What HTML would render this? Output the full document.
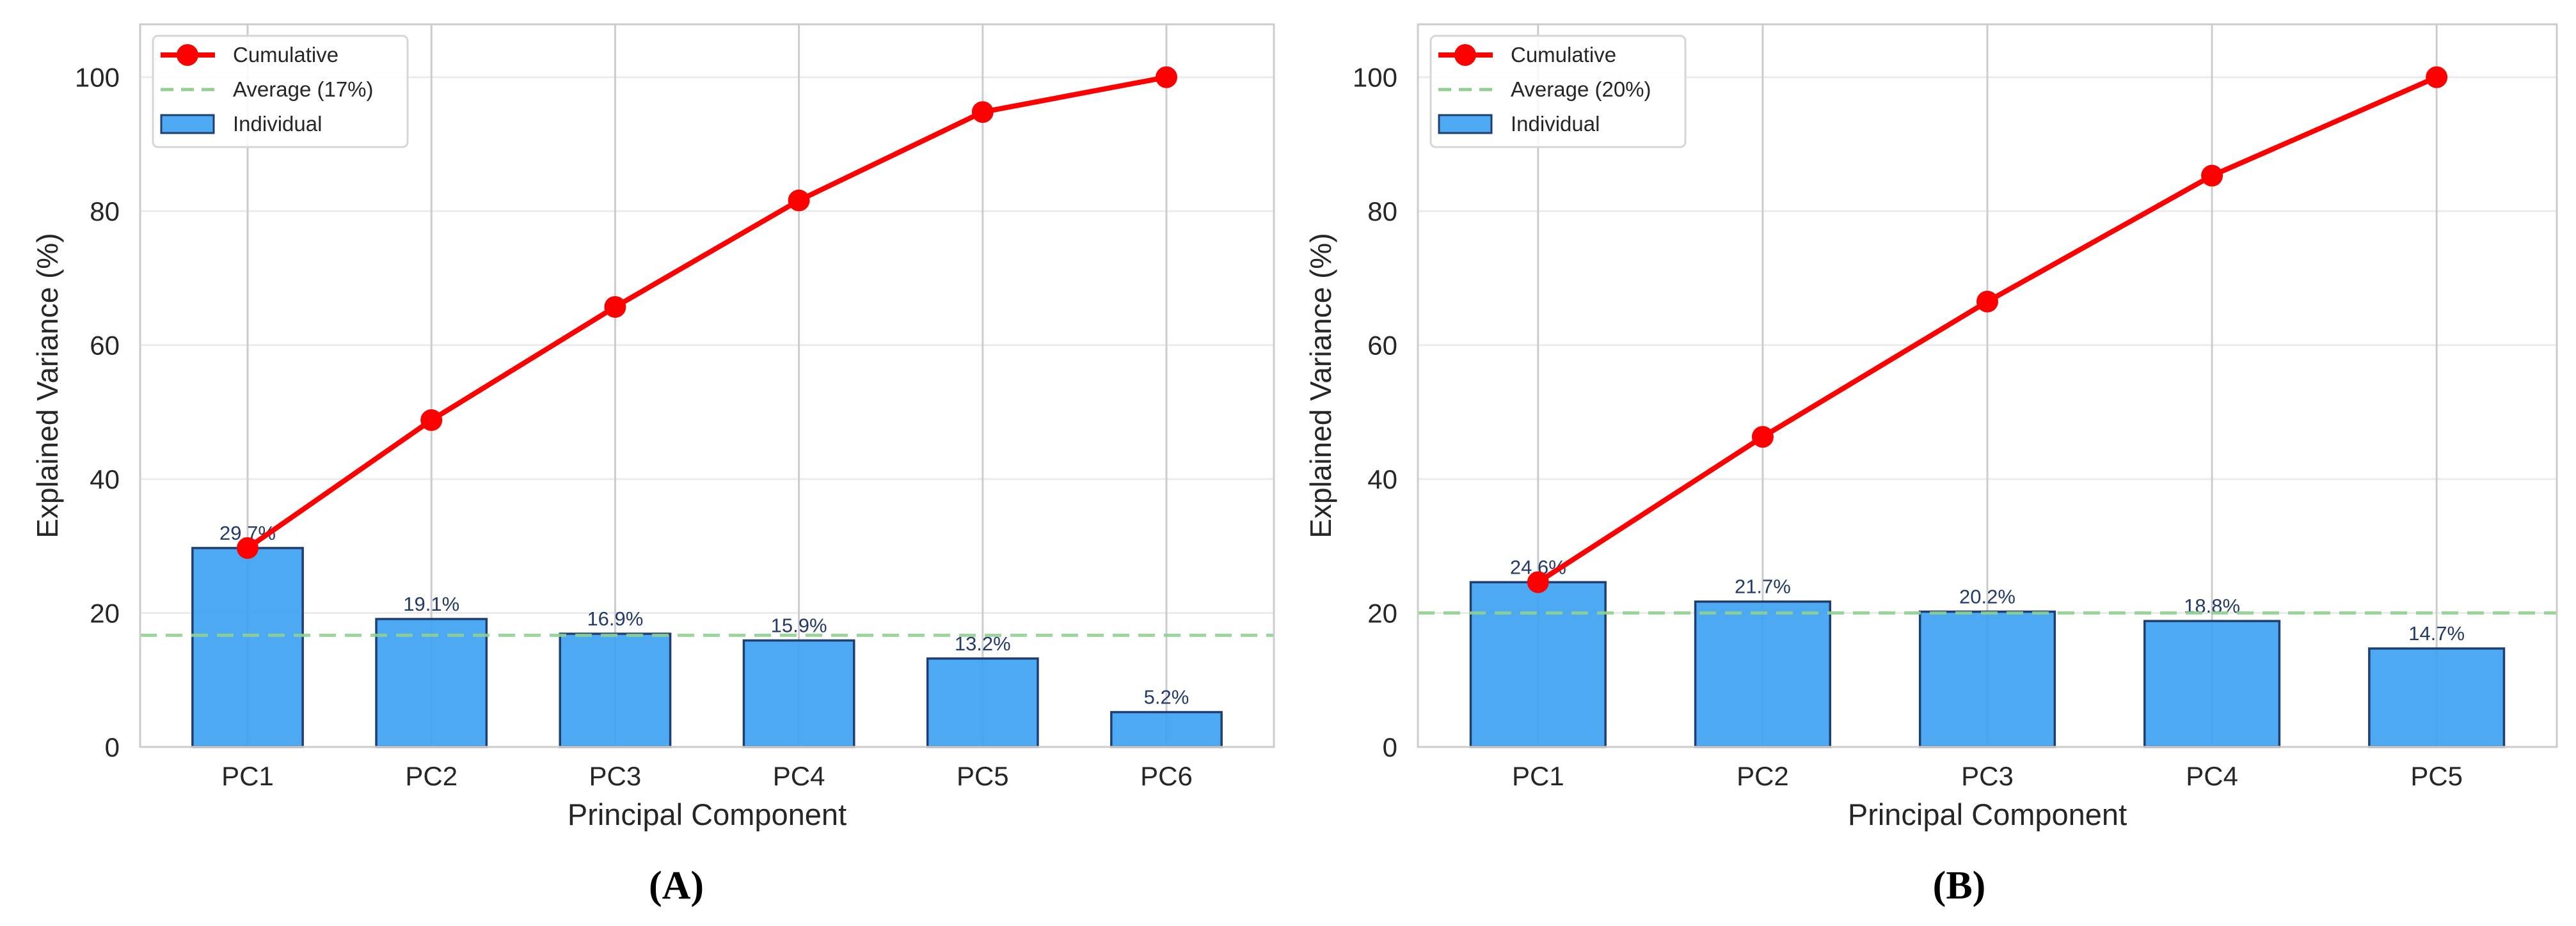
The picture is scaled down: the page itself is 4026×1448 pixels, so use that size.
<!DOCTYPE html>
<html><head><meta charset="utf-8">
<style>
html,body{margin:0;padding:0;background:#fff;}
svg{display:block;}
text{font-family:"Liberation Sans",Arial,sans-serif;}
</style></head>
<body>
<svg id="fig" width="4026" height="1448" viewBox="0 0 4026 1448" xmlns="http://www.w3.org/2000/svg"></svg>
<script>
const categoriesA = ["PC1","PC2","PC3","PC4","PC5","PC6"];
const individualA = [29.7,19.1,16.9,15.9,13.2,5.2];
const cumulativeA = [29.7,48.8,65.7,81.6,94.8,100];
const averageA = 16.67;
const avgLabelA = "Average (17%)";
const categoriesB = ["PC1","PC2","PC3","PC4","PC5"];
const individualB = [24.6,21.7,20.2,18.8,14.7];
const cumulativeB = [24.6,46.3,66.5,85.3,100];
const averageB = 20;
const avgLabelB = "Average (20%)";
const yTicks = [0,20,40,60,80,100];
const panelLabels = ["(A)","(B)"];

const NS="http://www.w3.org/2000/svg";
const fig=document.getElementById('fig');
function mk(tag,attrs,parent,txt){const e=document.createElementNS(NS,tag);for(const k in attrs)e.setAttribute(k,attrs[k]);if(txt!==undefined)e.textContent=txt;(parent||fig).appendChild(e);return e;}

function panel(cfg,cats,ind,cum,avg,avgLabel,plabel){
  const g=mk('g',{});
  
  
  const L=cfg.left,R=cfg.right,T=38,B=1168,ymax=107.9;
  const pad=cfg.pad, n=cats.length;
  const xs=i=>L+(i+pad)/(n-1+2*pad)*(R-L);
  const ys=v=>B-v/ymax*(B-T);
  const bw=0.6*(xs(1)-xs(0));
  yTicks.forEach(t=>{
    const l=mk('line',{x1:L,x2:R,y1:ys(t),y2:ys(t),stroke:'#ebebeb','stroke-width':3},g);
    
    
    const tx=mk('text',{x:L-32,y:ys(t)+15,'text-anchor':'end','font-size':42,fill:'#262626'},g,String(t));
    
    
  });
  cats.forEach((c,i)=>{
    const l=mk('line',{x1:xs(i),x2:xs(i),y1:T,y2:B,stroke:'#cccccc','stroke-width':3},g);
    
    
  });
  cats.forEach((c,i)=>{
    const r=mk('rect',{x:xs(i)-bw/2,y:ys(ind[i]),width:bw,height:ys(0)-ys(ind[i]),fill:'#3fa2f2','fill-opacity':0.92,stroke:'#1f3f73','stroke-width':3.5},g);
    
    
    const tx=mk('text',{x:xs(i),y:1228,'text-anchor':'middle','font-size':42,fill:'#262626'},g,c);
    
    
    const v=mk('text',{x:xs(i),y:ys(ind[i])-13,'text-anchor':'middle','font-size':31,fill:'#233a6a'},g,ind[i].toFixed(1)+'%');
    
    
  });
  const av=mk('line',{x1:L,x2:R,y1:ys(avg),y2:ys(avg),stroke:'#8fd08f','stroke-width':5,'stroke-dasharray':'26 14','stroke-opacity':0.9},g);
  
  
  const pts=cum.map((v,i)=>xs(i)+','+ys(v)).join(' ');
  const pl=mk('polyline',{points:pts,fill:'none',stroke:'#ff0000','stroke-width':8,'stroke-linejoin':'round'},g);
  
  
  cum.forEach((v,i)=>{
    const c=mk('circle',{cx:xs(i),cy:ys(v),r:17,fill:'#ff0000'},g);
    
    
  });
  const fr=mk('rect',{x:L,y:T,width:R-L,height:B-T,fill:'none',stroke:'#cccccc','stroke-width':3},g);
  
  
  const yl=mk('text',{x:0,y:0,'text-anchor':'middle','font-size':46,fill:'#262626',transform:`translate(${cfg.ylabelX},${(T+B)/2}) rotate(-90)`},g,'Explained Variance (%)');
  
  
  const xl=mk('text',{x:(L+R)/2,y:1290,'text-anchor':'middle','font-size':47,fill:'#262626'},g,'Principal Component');
  
  
  const pla=mk('text',{x:cfg.plabelX,y:1405,'text-anchor':'middle','font-size':62,'font-weight':'bold',fill:'#000',style:'font-family:"Liberation Serif",serif'},g,plabel);
  
  
  const lg=mk('g',{},g);
  
  
  const lx=L+20,ly=56;
  mk('rect',{x:lx,y:ly,width:398,height:174,rx:8,fill:'#ffffff','fill-opacity':0.85,stroke:'#d6d6d6','stroke-width':3},lg);
  const e1=mk('g',{},lg);
  
  
  mk('line',{x1:lx+12,x2:lx+97,y1:ly+30,y2:ly+30,stroke:'#ff0000','stroke-width':8},e1);
  mk('circle',{cx:lx+54,cy:ly+30,r:17,fill:'#ff0000'},e1);
  mk('text',{x:lx+125,y:ly+41,'font-size':33,fill:'#262626'},e1,'Cumulative');
  const e2=mk('g',{},lg);
  
  
  mk('line',{x1:lx+12,x2:lx+97,y1:ly+84,y2:ly+84,stroke:'#8fd08f','stroke-width':5,'stroke-dasharray':'20 12'},e2);
  mk('text',{x:lx+125,y:ly+95,'font-size':33,fill:'#262626'},e2,avgLabel);
  const e3=mk('g',{},lg);
  
  
  mk('rect',{x:lx+13,y:ly+124,width:82,height:28,fill:'#4ea9f3',stroke:'#1f3f73','stroke-width':3},e3);
  mk('text',{x:lx+125,y:ly+149,'font-size':33,fill:'#262626'},e3,'Individual');
}
panel({name:'panel-a',left:219,right:1991,pad:0.585,ylabelX:90,plabelX:1057},categoriesA,individualA,cumulativeA,averageA,avgLabelA,panelLabels[0]);
panel({name:'panel-b',left:2216,right:3996,pad:0.535,ylabelX:2080,plabelX:3062},categoriesB,individualB,cumulativeB,averageB,avgLabelB,panelLabels[1]);
</script>
</body></html>
